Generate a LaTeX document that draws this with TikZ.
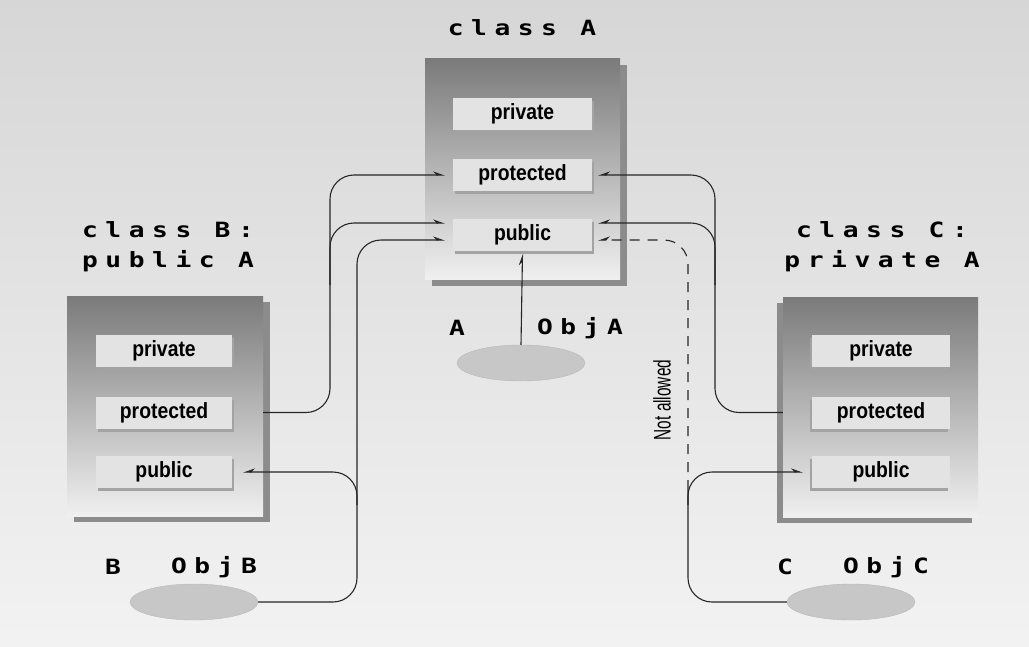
\documentclass[tikz,border=0pt]{standalone}
\usepackage{fontspec}
\usetikzlibrary{arrows.meta,shapes.geometric,shadows,positioning}

\newfontfamily\codefont{DejaVu Sans Mono}[FakeStretch=1.25, LetterSpace=36]
\newfontfamily\slotfont{Liberation Sans}[FakeStretch=0.88]
\newfontfamily\notefont{Liberation Sans}[FakeStretch=0.64]

\begin{document}
\begin{tikzpicture}[x=1pt, y=-1pt,
    link/.style={draw=black!85, line width=1.1pt, rounded corners=24pt},
    tip/.style={-{Stealth[length=10pt, width=7pt, harpoon]}},
    tipswap/.style={-{Stealth[length=10pt, width=7pt, harpoon, swap]}},
    classlabel/.style={font=\codefont\bfseries\fontsize{21}{30}\selectfont, inner sep=0pt, align=center},
    classbox/.style={rectangle, inner sep=0pt, top color=black!52, bottom color=black!6,
        minimum width=195pt, minimum height=221pt},
    slot/.style={rectangle, fill=black!11, inner sep=0pt, minimum height=32pt,
        font=\slotfont\bfseries\fontsize{22}{22}\selectfont},
    obj/.style={ellipse, fill=black!22, draw=black!28, minimum width=128pt, minimum height=36pt, inner sep=0pt},
    rshadow/.style={drop shadow={shadow xshift=7pt, shadow yshift=-6pt, fill=black!45, opacity=1}},
    lshadow/.style={drop shadow={shadow xshift=-6pt, shadow yshift=-6pt, fill=black!45, opacity=1}},
    rslot/.style={drop shadow={shadow xshift=2pt, shadow yshift=-3pt, fill=black!36, opacity=1}},
    lslot/.style={drop shadow={shadow xshift=-2pt, shadow yshift=-3pt, fill=black!36, opacity=1}},
]

    % background
    \shade[top color=black!16, bottom color=black!5] (0,0) rectangle (1029,646);
    \useasboundingbox (0,0) rectangle (1029,646);

    % class A
    \node[classlabel] (labA) at (522,28) {class A};
    \node[classbox, rshadow] (boxA) at (522.5,169) {};
    \node[slot, rslot, minimum width=139pt] (Apriv) at (522.5,114) {private};
    \node[slot, rslot, minimum width=139pt] (Aprot) at (522.5,175) {protected};
    \node[slot, rslot, minimum width=139pt] (Apub) at (522.5,234.5) {public};
    \node[classlabel] (nameA) at (457,328) {A};
    \node[classlabel] (varA) at (580,328) {ObjA};
    \node[obj] (objA) at (521,363) {};

    % class B
    \node[classlabel] (labB) at (168,247) {class B:\\public A};
    \node[classbox, rshadow, minimum width=196pt, minimum height=220pt] (boxB) at (165,406) {};
    \node[slot, rslot, minimum width=136pt] (Bpriv) at (164,351) {private};
    \node[slot, rslot, minimum width=136pt] (Bprot) at (164,412.5) {protected};
    \node[slot, rslot, minimum width=136pt] (Bpub) at (164,472) {public};
    \node[classlabel] (nameB) at (113,567) {B};
    \node[classlabel] (varB) at (214,567) {ObjB};
    \node[obj] (objB) at (194,602) {};

    % class C
    \node[classlabel] (labC) at (882,247) {class C:\\private A};
    \node[classbox, lshadow, minimum height=220pt] (boxC) at (880.5,407) {};
    \node[slot, lslot, minimum width=138pt] (Cpriv) at (881,351) {private};
    \node[slot, lslot, minimum width=138pt] (Cprot) at (881,412.5) {protected};
    \node[slot, lslot, minimum width=138pt] (Cpub) at (881,472) {public};
    \node[classlabel] (nameC) at (785,567) {C};
    \node[classlabel] (varC) at (886,567) {ObjC};
    \node[obj] (objC) at (851,602) {};

    % lanes and arrow ends
    \coordinate (b1) at (330,285);
    \coordinate (b2) at (357,505);
    \coordinate (c1) at (715,285);
    \coordinate (c2) at (688,490);
    \coordinate (c3) at (688,505);
    \coordinate (AinL1) at ([xshift=-8pt]Aprot.west);
    \coordinate (AinL2) at ([xshift=-8pt, yshift=11.5pt]Apub.west);
    \coordinate (AinL3) at ([xshift=-8pt, yshift=-5.5pt]Apub.west);
    \coordinate (AinR1) at ([xshift=6pt]Aprot.east);
    \coordinate (AinR2) at ([xshift=6pt, yshift=11.5pt]Apub.east);
    \coordinate (AinR3) at ([xshift=6pt, yshift=-5.5pt]Apub.east);

    % B side
    \draw[link, tip] (boxB.east |- Bprot) -| (b1 |- AinL1) -- (AinL1);
    \draw[link, tip] (b1) |- (AinL2);
    \draw[link, tip] (objB.east) -| (b2 |- AinL3) -- (AinL3);
    \draw[link, tipswap] (b2) |- ([xshift=11pt]Bpub.east);

    % C side
    \draw[link, tipswap] (boxC.west |- Cprot) -| (c1 |- AinR1) -- (AinR1);
    \draw[link, tipswap] (c1) |- (AinR2);
    \draw[link] (objC.west) -| (c2);
    \draw[link, dash pattern=on 10pt off 8pt, tipswap] (c2) |- (AinR3);
    \draw[link, tip] (c3) |- ([xshift=-9pt]Cpub.west);
    \node[rotate=90, inner sep=0pt, font=\notefont\fontsize{24}{24}\selectfont] (noway) at (662,400) {Not allowed};

    % object A
    \draw[link, tip] (objA.north) -- ([yshift=-3pt]Apub.south);

\end{tikzpicture}
\end{document}
